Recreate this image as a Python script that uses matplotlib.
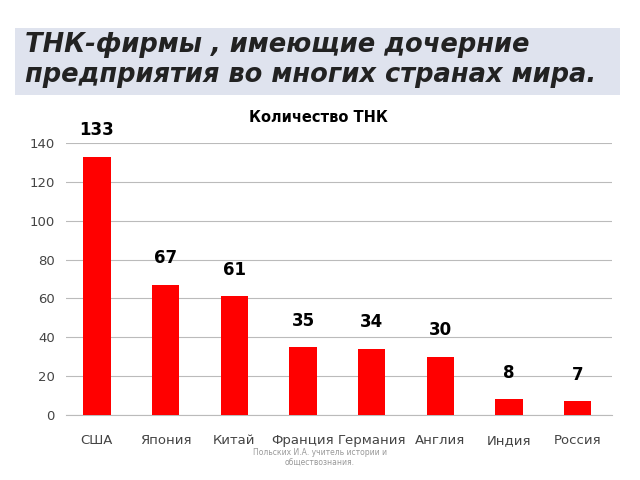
import matplotlib.pyplot as plt
from matplotlib.patches import Rectangle

countries = ['США', 'Япония', 'Китай', 'Франция', 'Германия', 'Англия', 'Индия', 'Россия']
values = [133, 67, 61, 35, 34, 30, 8, 7]
yticks = [0, 20, 40, 60, 80, 100, 120, 140]

fig = plt.figure(figsize=(6.4, 4.8), dpi=100)
fig.patches.append(Rectangle((15 / 640, 1 - 95 / 480), 605 / 640, 67 / 480,
                             transform=fig.transFigure, facecolor='#dfe3ee', edgecolor='none'))
fig.text(25 / 640, 1 - 45 / 480, 'ТНК-фирмы , имеющие дочерние', fontsize=18.5,
         fontweight='bold', fontstyle='italic', color='#222222', va='center')
fig.text(25 / 640, 1 - 75 / 480, 'предприятия во многих странах мира.', fontsize=18.5,
         fontweight='bold', fontstyle='italic', color='#222222', va='center')

ax = fig.add_axes([66 / 640, 1 - 415 / 480, 546 / 640, 272 / 480])
x = range(len(countries))
ax.bar(x, values, width=0.4, color='#ff0000', zorder=3)
for i, v in zip(x, values):
    ax.text(i, v + 9, str(v), ha='center', va='bottom', fontsize=12, fontweight='bold')
ax.set_xlim(-0.45, len(countries) - 0.5)
ax.set_ylim(0, 140)
ax.set_yticks(yticks)
ax.set_xticks(list(x))
ax.set_xticklabels(countries, fontsize=9.5, color='#444444')
ax.tick_params(axis='y', labelsize=9.5, colors='#444444', length=0, pad=8)
ax.tick_params(axis='x', length=0, pad=14)
ax.grid(axis='y', color='#bbbbbb', linewidth=0.8, zorder=0)
for s in ['top', 'right', 'left']:
    ax.spines[s].set_visible(False)
ax.spines['bottom'].set_color('#bbbbbb')
fig.text(318 / 640, 1 - 117 / 480, 'Количество ТНК', ha='center', va='center',
         fontsize=10.5, fontweight='bold')

fig.text(320 / 640, 1 - 458 / 480, 'Польских И.А. учитель истории и\nобществознания.',
         ha='center', va='center', fontsize=5.5, color='#999999')

fig.savefig('out.png', dpi=100)
